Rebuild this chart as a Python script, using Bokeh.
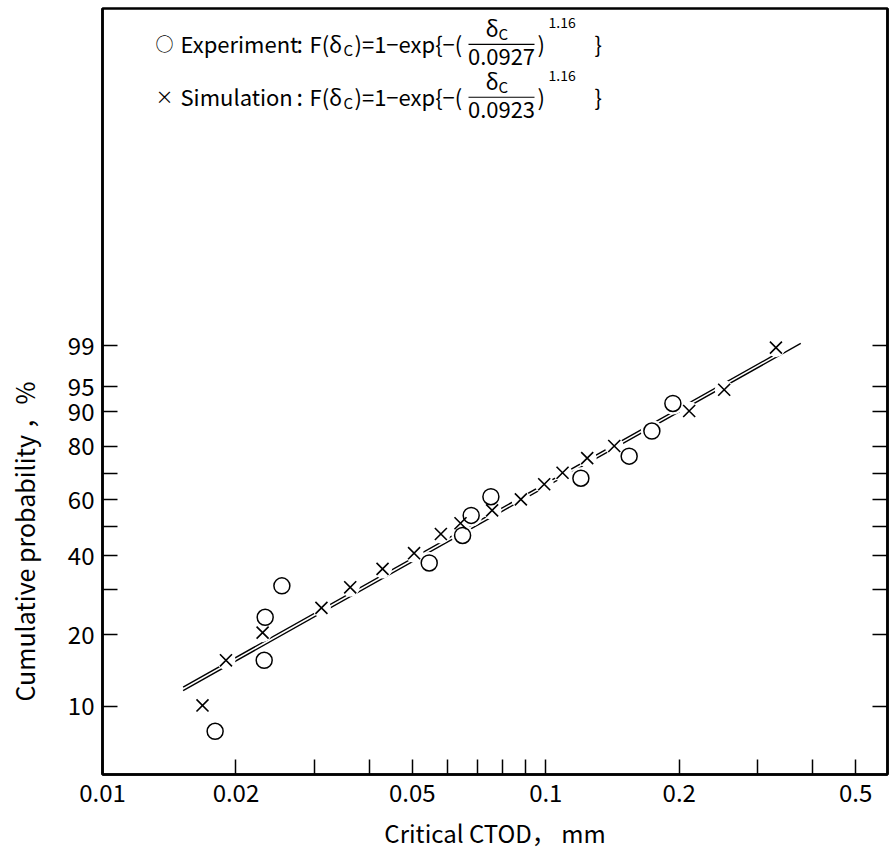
import numpy as np
from bokeh.plotting import figure
from bokeh.models import FixedTicker, LinearAxis, Label, Range1d, CustomJSTickFormatter
from bokeh.embed import file_html
from bokeh.resources import INLINE

# ---------------- data ----------------
exp_ctod = [0.01795, 0.02316, 0.02328, 0.02539, 0.05458, 0.06491, 0.06787,
            0.07519, 0.1200, 0.1542, 0.1735, 0.1935]
exp_prob = [7.8, 15.7, 23.5, 31.1, 37.7, 46.8, 54.1, 61.2, 68.3, 76.5, 84.8, 91.9]

sim_ctod = [0.01681, 0.01899, 0.02297, 0.03118, 0.03621, 0.04283, 0.05045,
            0.05799, 0.06421, 0.07566, 0.08786, 0.09918, 0.1091, 0.1240,
            0.1427, 0.2106, 0.2526, 0.3305]
sim_prob = [10.1, 15.7, 20.4, 25.6, 30.7, 35.9, 40.8, 47.3, 51.2, 56.0, 60.2,
            66.0, 70.4, 75.8, 80.0, 90.2, 94.5, 98.9]

exp_line_ctod = [0.0152, 0.376]
exp_line_prob = [11.7, 99.1]
sim_line_ctod = [0.0152, 0.325]
sim_line_prob = [12.1, 98.4]

y_tick_values = [10, 20, 40, 60, 80, 90, 95, 99]
y_minor_values = [30, 50, 70]
x_tick_values = [0.01, 0.02, 0.05, 0.1, 0.2, 0.5]
x_minor_values = [0.03, 0.04, 0.06, 0.07, 0.08, 0.09, 0.3, 0.4]

exp_scale, sim_scale, shape = "0.0927", "0.0923", "1.16"


def weib(pct):
    p = np.asarray(pct, dtype=float) / 100.0
    return np.log(-np.log(1.0 - p))


FONT = "Noto Sans CJK JP"
X0, X1 = 0.01, 0.590
Y0, Y1 = -2.963, 5.057
FL, FT, FW, FH = 102, 8, 785, 768

p = figure(width=896, height=852, x_axis_type="log",
           x_range=Range1d(X0, X1), y_range=Range1d(Y0, Y1),
           output_backend="svg", toolbar_location=None,
           min_border_left=FL, min_border_right=896 - FL - FW,
           min_border_top=FT, min_border_bottom=852 - FT - FH)
p.grid.visible = False
p.background_fill_color = "white"
p.border_fill_color = "white"
p.outline_line_color = "black"
p.outline_line_width = 2.5


def to_data(px, py):
    lx = np.log10(X0) + (px - FL) / FW * (np.log10(X1) - np.log10(X0))
    y = Y1 - (py - FT) / FH * (Y1 - Y0)
    return float(10 ** lx), float(y)


# ---------------- axes ----------------
def style_axis(ax):
    ax.axis_line_width = 2.5
    ax.axis_line_color = "black"
    ax.major_tick_in = 15
    ax.major_tick_out = 0
    ax.minor_tick_in = 15
    ax.minor_tick_out = 0
    ax.major_tick_line_width = 1.5
    ax.minor_tick_line_width = 1.5
    ax.major_label_text_font = FONT
    ax.major_label_text_font_size = "24px"
    ax.major_label_text_color = "black"
    ax.axis_label_text_font = FONT
    ax.axis_label_text_font_style = "normal"
    ax.axis_label_text_font_size = "24px"
    ax.axis_label_text_color = "black"


xa = p.xaxis[0]
xa.ticker = FixedTicker(ticks=x_tick_values, minor_ticks=x_minor_values)
xa.formatter = CustomJSTickFormatter(code="return String(+tick.toPrecision(3));")
style_axis(xa)
xa.major_label_standoff = 9
xa.axis_label = "Critical CTOD\uff0c mm"
xa.axis_label_standoff = 10

ya = p.yaxis[0]
ya.ticker = FixedTicker(ticks=list(weib(y_tick_values)), minor_ticks=list(weib(y_minor_values)))
ya.formatter = CustomJSTickFormatter(
    code="return String(Math.round(100*(1-Math.exp(-Math.exp(tick)))));")
style_axis(ya)
ya.major_label_standoff = 8
# trailing ideographic spaces push the centred title down onto the 10-99 % band
ya.axis_label = "Cumulative probability \uff0c%" + "\u3000" * 12
ya.axis_label_text_font_size = "25px"
ya.axis_label_standoff = 23

ra = LinearAxis(ticker=FixedTicker(ticks=list(weib(y_tick_values)),
                                   minor_ticks=list(weib(y_minor_values))),
                formatter=CustomJSTickFormatter(code="return '';"))
style_axis(ra)
ra.major_label_standoff = 0
ra.major_label_text_font_size = "0px"
p.add_layout(ra, "right")

# ---------------- fitted lines ----------------
p.line(exp_line_ctod, weib(exp_line_prob), line_color="black", line_width=1.4)
p.line(sim_line_ctod, weib(sim_line_prob), line_color="black", line_width=1.4)

# white halos break the lines around the symbols
p.scatter(sim_ctod, weib(sim_prob), marker="circle", size=19,
          fill_color="white", line_color=None)
p.scatter(exp_ctod, weib(exp_prob), marker="circle", size=22,
          fill_color="white", line_color=None)

p.scatter(exp_ctod, weib(exp_prob), marker="circle", size=16,
          fill_color="white", line_color="black", line_width=1.5)
p.scatter(sim_ctod, weib(sim_prob), marker="x", size=17,
          line_color="black", line_width=1.6)

# ---------------- legend with formulas ----------------
def lab(px, py, text, size, align="left", baseline="middle"):
    x, y = to_data(px, py)
    p.add_layout(Label(x=x, y=y, text=text, text_font=FONT,
                       text_font_size=f"{size}px", text_align=align,
                       text_baseline=baseline, text_color="black"))


def hbar(px0, px1, py):
    x0, y0 = to_data(px0, py)
    x1, _ = to_data(px1, py)
    p.line([x0, x1], [y0, y0], line_color="black", line_width=1.2)


def formula_row(yc, name, scale):
    lab(155, yc, "\u25cb" if name == "Experiment" else "\u00d7", 18)
    lab(180, yc, name, 22)
    lab(296, yc, ":", 23)
    lab(309, yc, "F(\u03b4", 22)
    lab(343, yc + 6, "C", 15)
    lab(354, yc, ")=1\u2212exp{\u2212(", 22)
    # fraction
    lab(498, yc - 16, "\u03b4", 22, align="right")
    lab(498, yc - 10, "C", 15)
    hbar(468, 534, yc + 1)
    lab(501, yc + 14, scale, 22, align="center")
    lab(537, yc, ")", 22)
    lab(548, yc - 21, shape, 14)
    lab(594, yc, "}", 22)


formula_row(43, "Experiment", exp_scale)
formula_row(96, "Simulation", sim_scale)

open("out.html", "w").write(file_html(p, INLINE))
